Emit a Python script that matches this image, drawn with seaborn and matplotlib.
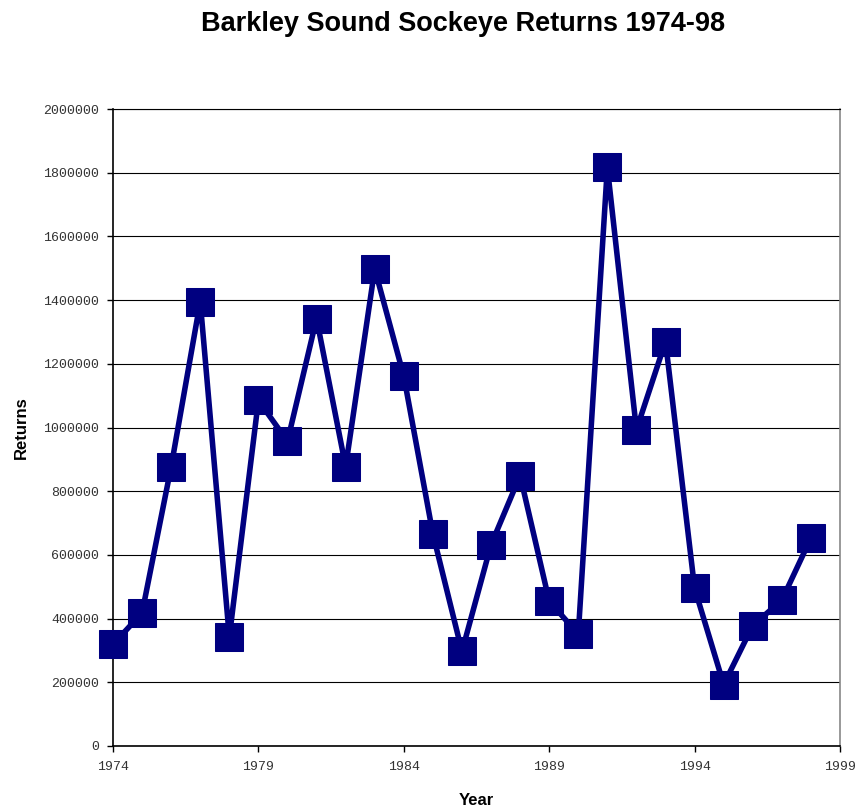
import matplotlib
matplotlib.use("Agg")
import matplotlib.pyplot as plt
import seaborn as sns
import pandas as pd

# Barkley Sound sockeye returns by year
years = list(range(1974, 1999))
returns = [319000, 418000, 877000, 1395000, 342000, 1085000, 957000, 1342000,
           877000, 1498000, 1161000, 666000, 297000, 632000, 849000, 455000,
           351000, 1817000, 993000, 1270000, 495000, 193000, 378000, 458000,
           653000]
x_ticks = [1974, 1979, 1984, 1989, 1994, 1999]
y_ticks = list(range(0, 2000001, 200000))

df = pd.DataFrame({"Year": years, "Returns": returns})

sns.set_style("white")
plt.rcParams["font.family"] = ["Liberation Sans", "DejaVu Sans"]
plt.rcParams["text.color"] = "black"
plt.rcParams["axes.labelcolor"] = "black"

fig = plt.figure(figsize=(8.58, 8.10), dpi=100)
ax = fig.add_axes([113 / 858, 1 - 746 / 810, (840 - 113) / 858, (746 - 109) / 810])

navy = "#000080"
sns.lineplot(data=df, x="Year", y="Returns", ax=ax, color=navy, linewidth=4,
             marker="s", markersize=20, markeredgecolor=navy,
             markerfacecolor=navy, clip_on=False, zorder=5)

ax.set_xlim(1974, 1999)
ax.set_ylim(0, 2000000)
ax.set_xticks(x_ticks)
ax.set_yticks(y_ticks)
ax.set_xticklabels([str(v) for v in x_ticks])
ax.set_yticklabels([str(v) for v in y_ticks])

for lbl in ax.get_xticklabels() + ax.get_yticklabels():
    lbl.set_fontfamily("Liberation Mono")
    lbl.set_fontsize(9.5)
    lbl.set_color("#333333")

ax.tick_params(axis="both", direction="out", length=4, width=1, color="black",
               bottom=True, left=True)
ax.tick_params(axis="x", pad=7)
ax.tick_params(axis="y", pad=6)

ax.yaxis.grid(True, color="black", linewidth=0.8)
ax.xaxis.grid(False)
ax.set_axisbelow(True)

for side in ("left", "bottom"):
    ax.spines[side].set_color("black")
    ax.spines[side].set_linewidth(1.2)
ax.spines["right"].set_color("#888888")
ax.spines["right"].set_linewidth(1.2)
ax.spines["top"].set_color("black")
ax.spines["top"].set_linewidth(0.8)

ax.set_xlabel("Year", fontsize=12, fontweight="bold", labelpad=14, color="black")
ax.set_ylabel("Returns", fontsize=12, fontweight="bold", labelpad=10, color="black")
fig.suptitle("Barkley Sound Sockeye Returns 1974-98", fontsize=19.5,
             fontweight="bold", x=0.54, y=0.986, color="black")

fig.savefig("out.png", dpi=100)
